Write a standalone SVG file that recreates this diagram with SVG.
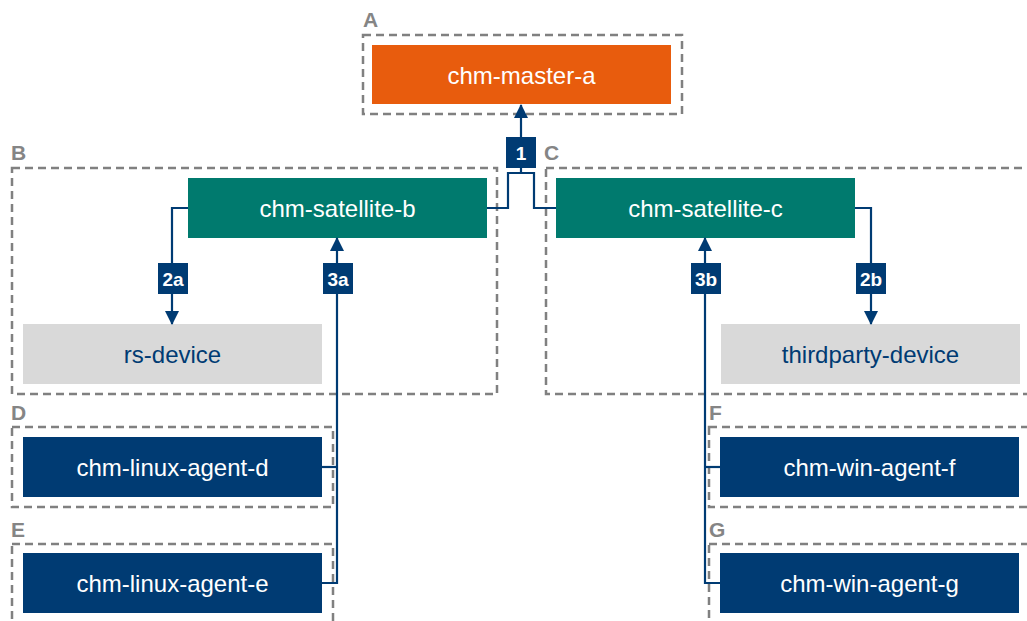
<svg xmlns="http://www.w3.org/2000/svg" width="1027" height="621" viewBox="0 0 1027 621">
<style>
.grp{fill:none;stroke:#808080;stroke-width:2.5;stroke-dasharray:8 5}
.gl{font-family:"Liberation Sans",Arial,sans-serif;font-weight:bold;font-size:21px;fill:#858585}
.nt{font-family:"Liberation Sans",Arial,sans-serif;font-size:24px;text-anchor:middle;dominant-baseline:central}
.w{fill:#ffffff}
.d{fill:#003B73}
.conn{fill:none;stroke:#003B73;stroke-width:2.2}
.lb{fill:#003B73}
.lt{font-family:"Liberation Sans",Arial,sans-serif;font-weight:bold;font-size:19px;fill:#ffffff;text-anchor:middle;dominant-baseline:central}
</style>
<defs>
<marker id="ah" markerUnits="userSpaceOnUse" markerWidth="14" markerHeight="14" refX="13" refY="7" orient="auto">
<path d="M0,0 L14,7 L0,14 z" fill="#003B73"/>
</marker>
</defs>
<rect width="1027" height="621" fill="#ffffff"/>
<g id="groups">
<rect class="grp" x="363" y="35" width="319" height="79"/>
<text class="gl" x="363" y="27">A</text>
<rect class="grp" x="12" y="168" width="485" height="226"/>
<text class="gl" x="11" y="160">B</text>
<rect class="grp" x="546" y="168" width="500" height="226"/>
<text class="gl" x="544" y="160">C</text>
<rect class="grp" x="12" y="427" width="321" height="80"/>
<text class="gl" x="11" y="420">D</text>
<rect class="grp" x="12" y="544" width="321" height="100"/>
<text class="gl" x="11" y="537">E</text>
<rect class="grp" x="709" y="427" width="340" height="80"/>
<text class="gl" x="709" y="420">F</text>
<rect class="grp" x="709" y="544" width="340" height="100"/>
<text class="gl" x="709" y="537">G</text>
</g>
<g id="chm-master-a"><rect x="372" y="45" width="299" height="59" fill="#E85C0D"/><text class="nt w" x="521.5" y="75">chm-master-a</text></g>
<g id="chm-satellite-b"><rect x="188" y="178" width="299" height="60" fill="#007A6E"/><text class="nt w" x="337.5" y="208">chm-satellite-b</text></g>
<g id="chm-satellite-c"><rect x="556" y="178" width="299" height="60" fill="#007A6E"/><text class="nt w" x="705.5" y="208">chm-satellite-c</text></g>
<g id="rs-device"><rect x="23" y="324" width="299" height="60" fill="#D9D9D9"/><text class="nt d" x="172.5" y="354">rs-device</text></g>
<g id="thirdparty-device"><rect x="721" y="324" width="299" height="60" fill="#D9D9D9"/><text class="nt d" x="870.5" y="354">thirdparty-device</text></g>
<g id="chm-linux-agent-d"><rect x="23" y="437" width="299" height="60" fill="#003B73"/><text class="nt w" x="172.5" y="467">chm-linux-agent-d</text></g>
<g id="chm-linux-agent-e"><rect x="23" y="553" width="299" height="60" fill="#003B73"/><text class="nt w" x="172.5" y="583">chm-linux-agent-e</text></g>
<g id="chm-win-agent-f"><rect x="720" y="437" width="299" height="60" fill="#003B73"/><text class="nt w" x="869.5" y="467">chm-win-agent-f</text></g>
<g id="chm-win-agent-g"><rect x="720" y="553" width="299" height="60" fill="#003B73"/><text class="nt w" x="869.5" y="583">chm-win-agent-g</text></g>
<g id="connectors">
<path class="conn" d="M487,208 H508 V173 H534 V208 H556"/>
<path class="conn" d="M521,173 V105" marker-end="url(#ah)"/>
<path class="conn" d="M188,208 H172 V324" marker-end="url(#ah)"/>
<path class="conn" d="M855,208 H871 V324" marker-end="url(#ah)"/>
<path class="conn" d="M322,583 H337 V238" marker-end="url(#ah)"/>
<path class="conn" d="M322,467 H337"/>
<path class="conn" d="M720,583 H705 V238" marker-end="url(#ah)"/>
<path class="conn" d="M720,467 H705"/>
<rect class="lb" x="506" y="137" width="30" height="31"/><text class="lt" x="521" y="153">1</text>
<rect class="lb" x="158" y="263" width="30" height="31"/><text class="lt" x="173" y="279">2a</text>
<rect class="lb" x="856" y="263" width="30" height="31"/><text class="lt" x="871" y="279">2b</text>
<rect class="lb" x="323" y="263" width="30" height="31"/><text class="lt" x="338" y="279">3a</text>
<rect class="lb" x="691" y="263" width="30" height="31"/><text class="lt" x="706" y="279">3b</text>
</g>
</svg>
